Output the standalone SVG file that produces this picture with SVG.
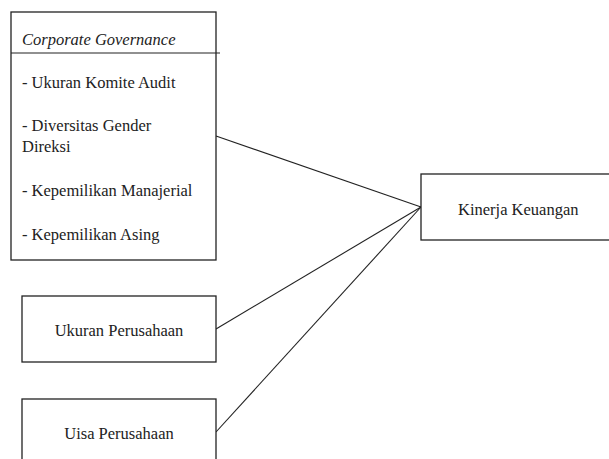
<svg xmlns="http://www.w3.org/2000/svg" width="609" height="459" viewBox="0 0 609 459">
<style>
.box{fill:#fff;stroke:#222;stroke-width:1.3}
text{font-family:'Liberation Serif','DejaVu Serif',serif;font-size:16.5px;fill:#222}
.i{font-style:italic}
.c{stroke:#222;stroke-width:1.1;fill:none}
</style>
<rect width="609" height="459" fill="#fff"/>
<g id="connectors">
<line class="c" x1="216" y1="136" x2="421" y2="207"/>
<line class="c" x1="216" y1="329" x2="421" y2="207"/>
<line class="c" x1="216" y1="432" x2="421" y2="207"/>
</g>
<g id="corporate-governance">
<rect class="box" x="11" y="12" width="205" height="248"/>
<line class="c" x1="11" y1="53" x2="220" y2="53"/>
<text class="i" x="22" y="45" font-family="Liberation Serif">Corporate Governance</text>
<text x="22" y="88" font-family="Liberation Serif">- Ukuran Komite Audit</text>
<text x="22" y="131" font-family="Liberation Serif">- Diversitas Gender</text>
<text x="22" y="152" font-family="Liberation Serif">Direksi</text>
<text x="22" y="196" font-family="Liberation Serif">- Kepemilikan Manajerial</text>
<text x="22" y="240" font-family="Liberation Serif">- Kepemilikan Asing</text>
</g>
<g id="ukuran-perusahaan">
<rect class="box" x="22" y="296" width="194" height="66"/>
<text x="119" y="336" text-anchor="middle" font-family="Liberation Serif">Ukuran Perusahaan</text>
</g>
<g id="uisa-perusahaan">
<rect class="box" x="22" y="399" width="194" height="70"/>
<text x="119" y="439" text-anchor="middle" font-family="Liberation Serif">Uisa Perusahaan</text>
</g>
<g id="kinerja-keuangan">
<rect class="box" x="421" y="174" width="200" height="66"/>
<text x="458" y="215" font-family="Liberation Serif">Kinerja Keuangan</text>
</g>
</svg>
